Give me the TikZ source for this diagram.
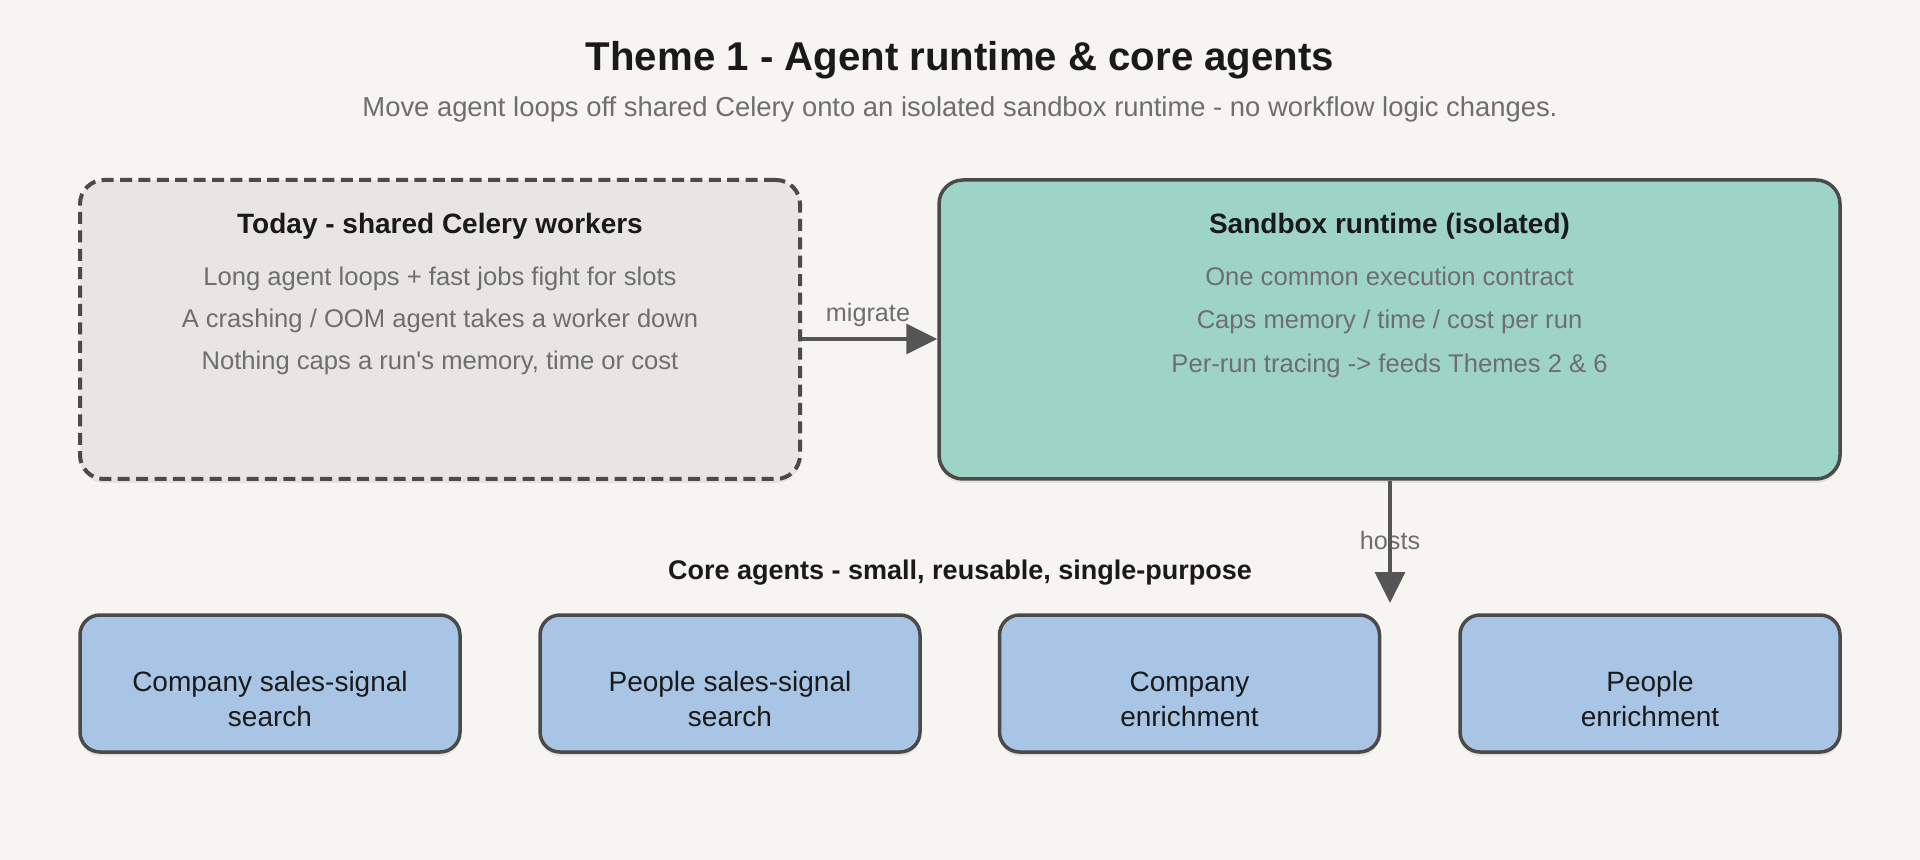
\documentclass[tikz,border=0pt]{standalone}
\usepackage{fontspec}
\setmainfont{Liberation Sans}
\usetikzlibrary{arrows.meta,shadows}
\definecolor{bg}{HTML}{F6F5F1}
\definecolor{edge}{HTML}{4A4A4A}
\definecolor{todayfill}{HTML}{E8E6E2}
\definecolor{sandfill}{HTML}{9DD4C6}
\definecolor{agentfill}{HTML}{A8C5E5}
\definecolor{ink}{HTML}{1A1A1A}
\definecolor{muted}{HTML}{6E6E6E}
\definecolor{arrowc}{HTML}{555555}
\setlength{\tabcolsep}{0pt}
\tikzset{
  box/.style={draw=edge, line width=1.75pt, rounded corners=11pt, inner sep=0pt,
    drop shadow={shadow xshift=0pt, shadow yshift=-2pt, opacity=0.07, fill=black}},
  agentbox/.style={box, fill=agentfill, minimum width=190pt, minimum height=68.5pt,
    rounded corners=10pt},
  agenttext/.style={anchor=base, inner sep=0pt, text=ink, font=\fontsize{14}{17.5}\selectfont},
  heading/.style={anchor=base, inner sep=0pt, text=ink, font=\bfseries\fontsize{14}{16}\selectfont},
  bodytext/.style={anchor=base, inner sep=0pt, text=muted, font=\fontsize{12.8}{15}\selectfont},
  conn/.style={draw=arrowc, line width=1.6pt, -{Triangle[length=15.5pt,width=15pt]}},
  connlabel/.style={anchor=base, inner sep=0pt, text=muted, font=\fontsize{12.6}{14}\selectfont},
}
\begin{document}
\begin{tikzpicture}[x=0.5pt, y=-0.5pt]
\fill[bg] (0,0) rectangle (1920,860);
\useasboundingbox (0,0) rectangle (1920,860);

\node[anchor=base, inner sep=0pt, text=ink, font=\bfseries\fontsize{20.1}{24}\selectfont] (title) at (960,70.5) {Theme 1 - Agent runtime \& core agents};
\node[anchor=base, inner sep=0pt, text=muted, font=\fontsize{13.7}{16}\selectfont] (subtitle) at (960,116.5) {Move agent loops off shared Celery onto an isolated sandbox runtime - no workflow logic changes.};

\node[box, fill=todayfill, dashed, dash pattern=on 6pt off 3.2pt, line width=2pt, rounded corners=12pt,
  minimum width=360pt, minimum height=149.5pt] (today) at (440,329.5) {};
\node[heading] (todayhead) at (440,233.5) {Today - shared Celery workers};
\node[bodytext] (today1) at (440,285.5) {Long agent loops + fast jobs fight for slots};
\node[bodytext] (today2) at (440,327.5) {A crashing / OOM agent takes a worker down};
\node[bodytext] (today3) at (440,369.5) {Nothing caps a run\textquotesingle s memory, time or cost};

\node[box, fill=sandfill, rounded corners=12pt,
  minimum width=450.5pt, minimum height=149.5pt] (sandbox) at (1389.5,329.5) {};
\node[heading] (sandhead) at (1389.5,233.5) {Sandbox runtime (isolated)};
\node[bodytext] (sand1) at (1389.5,285.5) {One common execution contract};
\node[bodytext] (sand2) at (1389.5,328.5) {Caps memory / time / cost per run};
\node[bodytext] (sand3) at (1389.5,372.5) {Per-run tracing -> feeds Themes 2 \& 6};

\coordinate (migy) at (0,339);
\draw[conn] (today.east |- migy) -- (sandbox.west |- migy);
\node[connlabel] (miglabel) at (868,322) {migrate};

\node[heading, font=\bfseries\fontsize{13.5}{16}\selectfont] (corelabel) at (960,579) {Core agents - small, reusable, single-purpose};

\node[agentbox] (a1) at (270,683.5) {};
\node[agentbox] (a2) at (730,683.5) {};
\node[agentbox] (a3) at (1189.5,683.5) {};
\node[agentbox] (a4) at (1650,683.5) {};
\node[agenttext] (a1t) at ([yshift=-3.75pt]a1.center) {\begin{tabular}[t]{c}Company sales-signal\\search\end{tabular}};
\node[agenttext] (a2t) at ([yshift=-3.75pt]a2.center) {\begin{tabular}[t]{c}People sales-signal\\search\end{tabular}};
\node[agenttext] (a3t) at ([yshift=-3.75pt]a3.center) {\begin{tabular}[t]{c}Company\\enrichment\end{tabular}};
\node[agenttext] (a4t) at ([yshift=-3.75pt]a4.center) {\begin{tabular}[t]{c}People\\enrichment\end{tabular}};

\coordinate (hostsend) at (1390,603);
\node[connlabel] (hostslabel) at (1390,549) {hosts};
\draw[conn] (sandbox.south -| hostsend) -- (hostsend);
\end{tikzpicture}
\end{document}
